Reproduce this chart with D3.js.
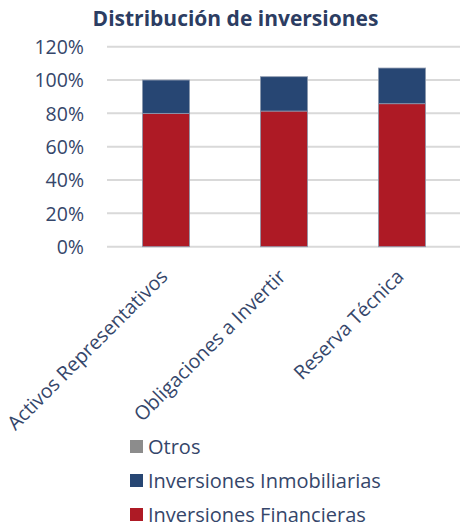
<!DOCTYPE html>
<html><head><meta charset="utf-8">
<script src="https://cdn.jsdelivr.net/npm/d3@7"></script>
<style>body{margin:0;background:#fff}svg{display:block}</style>
</head><body>
<svg id="c" width="460" height="526"></svg>
<script>
const categories = ["Activos Representativos", "Obligaciones a Invertir", "Reserva Técnica"];
const inversionesFinancieras = [80.0, 81.4, 85.8];
const inversionesInmobiliarias = [20.0, 20.6, 21.4];
const otros = [0, 0, 0];
const yTicks = [0, 20, 40, 60, 80, 100, 120];
const seriesNames = ["Inversiones Financieras", "Inversiones Inmobiliarias", "Otros"];
const seriesColors = ["#AE1A25", "#274673", "#8C8C8C"];
const title = "Distribución de inversiones";

const svg = d3.select("#c");
const font = "'Open Sans', 'Noto Sans', sans-serif";
const textColor = "#35466A";

const x = d3.scaleBand().domain(categories).range([107, 461]).paddingInner(0.6).paddingOuter(0.3);
const y = d3.scaleLinear().domain([0, 120]).range([246.7, 46.7]);

svg.append("text").attr("x", 235.5).attr("y", 26).attr("text-anchor", "middle")
  .attr("font-family", font).attr("font-weight", 700).attr("font-size", 21)
  .attr("fill", "#2C3D62").text(title);

// gridlines
svg.append("g").selectAll("line").data(yTicks).join("line")
  .attr("x1", 107).attr("x2", 460)
  .attr("y1", d => y(d)).attr("y2", d => y(d))
  .attr("stroke", "#D9D9D9").attr("stroke-width", 2);

// y axis
const yAxis = svg.append("g").attr("transform", "translate(84,0)")
  .call(d3.axisLeft(y).tickValues(yTicks).tickFormat(d => d + "%").tickSize(0).tickPadding(0));
yAxis.select(".domain").remove();
yAxis.selectAll("text").attr("font-family", font).attr("font-size", 19.5).attr("fill", textColor).attr("dy", "0.35em");

// stacked data
const table = categories.map((c, i) => ({cat: c, "Inversiones Financieras": inversionesFinancieras[i], "Inversiones Inmobiliarias": inversionesInmobiliarias[i], "Otros": otros[i]}));
const stack = d3.stack().keys(seriesNames)(table);
svg.append("g").selectAll("g").data(stack).join("g")
  .attr("fill", (d, i) => seriesColors[i])
  .selectAll("rect").data(d => d).join("rect")
  .attr("x", d => x(d.data.cat))
  .attr("width", x.bandwidth())
  .attr("y", d => y(d[1]))
  .attr("height", d => Math.max(0, y(d[0]) - y(d[1])))
  .attr("stroke", d => (d[1] - d[0]) > 0 ? "#8F9BB0" : "none")
  .attr("stroke-width", 0.8);

// x axis labels
const xAxis = svg.append("g").attr("transform", "translate(0,247)")
  .call(d3.axisBottom(x).tickSize(0).tickPadding(0));
xAxis.select(".domain").remove();
xAxis.selectAll("text")
  .attr("font-family", font).attr("font-size", 19.6).attr("fill", textColor)
  .attr("text-anchor", "end")
  .attr("transform", "translate(-2,26) rotate(-45)")
  .attr("dy", "0.35em").attr("y", 0);

// legend
const legendOrder = [2, 1, 0];
const lg = svg.append("g").selectAll("g").data(legendOrder).join("g")
  .attr("transform", (d, i) => `translate(130,${446.5 + i * 34})`);
lg.append("rect").attr("x", 0).attr("y", -6.5).attr("width", 13).attr("height", 13).attr("fill", d => seriesColors[d]);
lg.append("text").attr("x", 18).attr("y", 0).attr("dy", "0.35em")
  .attr("font-family", font).attr("font-size", 20).attr("fill", textColor)
  .text(d => seriesNames[d]);
</script>
</body></html>
